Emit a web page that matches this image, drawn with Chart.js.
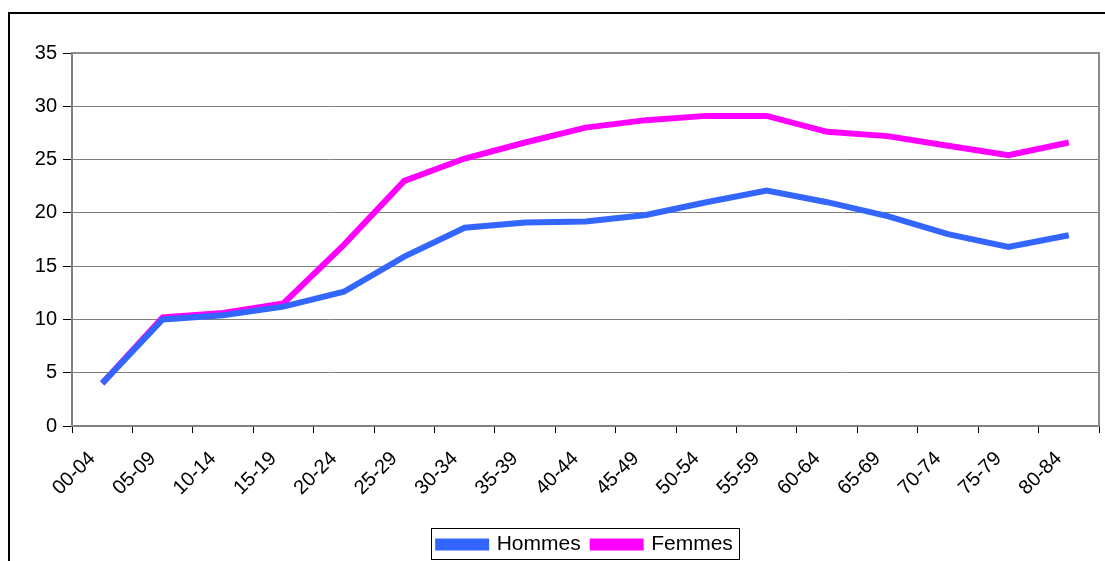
<!DOCTYPE html>
<html>
<head>
<meta charset="utf-8">
<script src="https://cdn.jsdelivr.net/npm/chart.js@4"></script>
<style>
  body { margin: 0; background: #fff; }
  #frame { position: absolute; left: 8px; top: 12px; width: 1200px; height: 600px;
           border-left: 2px solid #000; border-top: 2px solid #000; }
  #wrap { position: absolute; left: 0; top: 0; width: 1105px; height: 561px; }
</style>
</head>
<body>
<div id="frame"></div>
<div id="wrap"><canvas id="ageChart"></canvas></div>
<script>
var ageGroups = ['00-04', '05-09', '10-14', '15-19', '20-24', '25-29', '30-34', '35-39', '40-44',
                 '45-49', '50-54', '55-59', '60-64', '65-69', '70-74', '75-79', '80-84'];
var hommes = [4.0, 10.0, 10.4, 11.2, 12.6, 15.9, 18.6, 19.1, 19.2, 19.8, 21.0, 22.1, 21.0, 19.7, 18.0, 16.8, 17.9];
var femmes = [4.0, 10.2, 10.6, 11.5, 17.0, 23.0, 25.1, 26.6, 28.0, 28.7, 29.1, 29.1, 27.6, 27.2, 26.3, 25.4, 26.6];
var yTicks = [0, 5, 10, 15, 20, 25, 30, 35];

// gray box round the plot area, legend moved a little, and a box round it
var frames = {
    id: 'frames',
    afterLayout: function(chart) {
        var lg = chart.legend;
        lg.left += 72;
        lg.top += 4;
        lg.bottom += 4;
    },
    afterDraw: function(chart) {
        var c = chart.ctx, a = chart.chartArea;
        c.save();
        c.strokeStyle = '#8c8c8c';
        c.lineWidth = 2;
        c.beginPath();
        c.moveTo(a.left, a.top);
        c.lineTo(a.right, a.top);
        c.lineTo(a.right, a.bottom);
        c.stroke();
        var lg = chart.legend;
        if (lg && lg.legendHitBoxes && lg.legendHitBoxes.length) {
            var hb = lg.legendHitBoxes;
            var l = hb[0].left - 7, r = hb[hb.length - 1].left + hb[hb.length - 1].width + 6;
            c.strokeStyle = '#000';
            c.lineWidth = 1;
            c.strokeRect(Math.round(l) + 0.5, 528.5, Math.round(r - l), 31);
        }
        c.restore();
    }
};

var font = 'Liberation Sans, Arial, sans-serif';
var ctx = document.getElementById('ageChart').getContext('2d');
var chart = new Chart(ctx, {
    type: 'line',
    data: {
        labels: ageGroups,
        datasets: [{
            label: 'Hommes',
            data: hommes,
            borderColor: '#3366ff',
            backgroundColor: '#3366ff',
            borderWidth: 6
        }, {
            label: 'Femmes',
            data: femmes,
            borderColor: '#ff00ff',
            backgroundColor: '#ff00ff',
            borderWidth: 6
        }]
    },
    plugins: [frames],
    options: {
        responsive: true,
        maintainAspectRatio: false,
        animation: false,
        layout: { padding: { left: 0, right: 6, top: 53, bottom: 0 } },
        elements: {
            point: { radius: 0 },
            line: { tension: 0 }
        },
        scales: {
            x: {
                offset: true,
                afterFit: function(s) { s.height = 92; },
                grid: {
                    offset: true,
                    drawOnChartArea: false,
                    drawTicks: true,
                    tickLength: 7,
                    tickColor: '#000',
                    tickWidth: 1
                },
                border: { color: '#808080', width: 2 },
                ticks: {
                    color: '#000',
                    minRotation: 45,
                    maxRotation: 45,
                    autoSkip: false,
                    padding: 14,
                    labelOffset: -10,
                    font: { family: font, size: 20 }
                }
            },
            y: {
                min: 0,
                max: 35,
                afterFit: function(s) { s.width = 72; },
                afterBuildTicks: function(s) { s.ticks = yTicks.map(function(v) { return { value: v }; }); },
                grid: {
                    color: '#7f7f7f',
                    lineWidth: 1,
                    borderDash: [1, 1],
                    tickBorderDash: [],
                    tickColor: '#000',
                    tickLength: 9
                },
                border: { color: '#808080', width: 2 },
                ticks: {
                    color: '#000',
                    padding: 6,
                    font: { family: font, size: 20 }
                }
            }
        },
        plugins: {
            title: { display: false },
            tooltip: { enabled: false },
            legend: {
                position: 'bottom',
                labels: {
                    color: '#000',
                    boxWidth: 48,
                    boxHeight: 6,
                    padding: 12,
                    font: { family: font, size: 21 }
                }
            }
        }
    }
});
</script>
</body>
</html>
